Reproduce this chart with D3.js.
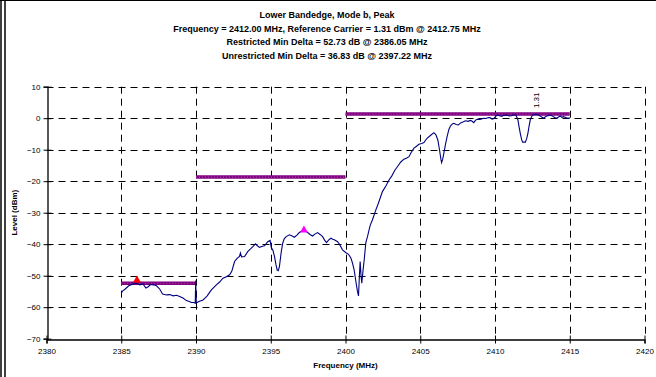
<!DOCTYPE html>
<html><head><meta charset="utf-8">
<script src="https://cdn.jsdelivr.net/npm/d3@7"></script>
<style>
html,body{margin:0;padding:0;background:#fff;}
svg{display:block;font-family:"Liberation Sans",Arial,sans-serif;}
</style></head>
<body>
<svg id="c" width="656" height="377"></svg>
<script>
const titleLines = [
  "Lower Bandedge, Mode b, Peak",
  "Frequency = 2412.00 MHz, Reference Carrier = 1.31 dBm @ 2412.75 MHz",
  "Restricted Min Delta = 52.73 dB @ 2386.05 MHz",
  "Unrestricted Min Delta = 36.83 dB @ 2397.22 MHz"
];
const xTicks = [2380,2385,2390,2395,2400,2405,2410,2415,2420];
const yTicks = [10,0,-10,-20,-30,-40,-50,-60,-70];
const xLabel = "Frequency (MHz)";
const yLabel = "Level (dBm)";

const freq = [2385.0,2385.1,2385.25,2385.5,2385.8,2386.0,2386.25,2386.45,2386.65,2386.8,2386.96,2387.15,2387.36,2387.58,2387.76,2388.03,2388.25,2388.47,2388.7,2388.91,2389.13,2389.36,2389.55,2389.69,2389.85,2389.95,2389.98,2390.02,2390.2,
2390.47,2390.6,2390.75,2390.91,2391.03,2391.13,2391.36,2391.58,2391.8,2392.03,2392.25,2392.4,2392.58,2392.75,2392.91,2392.97,2393.05,2393.25,2393.47,2393.65,2393.8,2393.98,2394.1,2394.25,2394.4,2394.58,2394.7,2394.8,2394.96,2395.03,2395.15,2395.25,2395.35,2395.43,2395.5,2395.58,2395.7,2395.8,2395.9,2396.03,2396.25,2396.4,2396.58,2396.75,2396.91,2397.05,2397.22,2397.35,2397.47,2397.65,2397.8,2397.95,2398.13,2398.3,2398.47,2398.6,2398.73,2398.88,2399.03,2399.15,2399.25,2399.47,2399.6,2399.8,2400.03,2400.2,2400.36,2400.47,2400.58,2400.7,2400.8,2400.87,2400.93,2400.98,2401.04,2401.09,2401.18,2401.25,2401.36,2401.47,2401.65,2401.8,2402.0,2402.2,2402.47,2402.7,2402.91,2403.1,2403.3,2403.47,2403.7,2403.91,2404.1,2404.25,2404.4,2404.58,2404.75,2404.91,2405.1,2405.25,2405.35,2405.47,2405.7,2405.91,2406.05,2406.18,2406.29,2406.38,2406.43,2406.5,2406.58,2406.7,2406.8,2406.92,2407.03,2407.15,2407.25,2407.4,2407.55,2407.7,2407.85,2408.03,2408.2,2408.35,2408.45,2408.58,2408.7,2408.85,2409.0,2409.25,2409.4,2409.55,2409.7,2409.8,2409.9,2410.03,2410.15,2410.3,2410.45,2410.6,2410.8,2410.95,2411.1,2411.25,2411.4,2411.53,2411.62,2411.69,2411.78,2411.85,2412.03,2412.12,2412.2,2412.28,2412.36,2412.5,2412.62,2412.75,2412.9,2413.03,2413.15,2413.25,2413.35,2413.47,2413.6,2413.7,2413.9,2414.0,2414.13,2414.25,2414.36,2414.48,2414.58,2414.7,2414.87,2415.0];
const level = [-55.6,-54.8,-54.3,-53.2,-52.6,-52.4,-52.9,-52.6,-53.9,-53.5,-52.8,-52.9,-53.2,-54.3,-55.8,-56.1,-56.0,-56.4,-56.2,-56.6,-57.1,-57.9,-58.2,-58.5,-58.5,-58.7,-51.5,-58.6,-58.2,
-57.7,-57.1,-56.4,-55.3,-54.5,-54.0,-52.9,-52.0,-50.8,-50.3,-49.7,-48.5,-45.5,-44.5,-43.9,-42.8,-44.0,-43.9,-42.3,-41.5,-40.8,-39.9,-40.5,-41.0,-40.7,-40.5,-39.8,-39.2,-38.8,-41.0,-42.0,-43.9,-46.5,-48.2,-48.4,-47.1,-42.5,-39.7,-38.3,-37.6,-37.0,-37.3,-37.8,-37.1,-36.3,-35.9,-35.5,-35.9,-36.3,-37.0,-37.4,-36.8,-36.3,-36.9,-37.6,-38.7,-39.5,-38.6,-38.1,-38.4,-38.6,-39.2,-40.0,-41.8,-42.7,-43.2,-44.4,-46.0,-48.2,-52.0,-55.0,-56.4,-50.0,-45.5,-50.0,-52.4,-48.0,-45.0,-39.5,-37.6,-34.0,-32.3,-29.5,-27.0,-23.3,-21.5,-19.6,-18.3,-16.5,-15.4,-13.9,-13.0,-12.6,-12.2,-10.8,-9.5,-8.9,-8.3,-8.0,-7.7,-7.0,-6.3,-5.4,-4.6,-5.3,-7.0,-10.1,-13.0,-14.1,-13.0,-11.1,-8.0,-5.8,-3.5,-2.4,-1.8,-1.6,-2.0,-2.1,-1.5,-1.2,-0.8,-1.0,-0.7,-0.9,-1.4,-0.6,-0.3,-0.4,0.0,-0.1,0.2,0.1,-0.3,-0.2,0.5,1.0,0.8,0.6,0.9,1.0,0.7,0.8,1.1,1.0,-0.5,-3.0,-4.8,-6.8,-7.6,-7.6,-6.5,-4.8,-2.5,-0.5,1.0,1.1,1.31,1.0,0.7,0.3,0.0,0.4,0.7,0.9,1.0,0.5,0.2,0.0,0.4,0.7,0.3,0.5,0.3,0.0,0.1];

const limitStart = [2385, 2390, 2400];
const limitEnd = [2390, 2400, 2415];
const limitLevel = [-52.4, -18.69, 1.31];

const markerFreq = [2386.05, 2397.22];
const markerLevel = [-51.42, -35.52];
const markerColor = ["#ff0000", "#ff00ff"];

const peakLabelFreq = 2412.75;
const peakLabelLevel = 1.31;
const peakLabel = "1.31";

const svg = d3.select("#c");
const x = d3.scaleLinear().domain([2380, 2420]).range([46.5, 644.5]);
const y = d3.scaleLinear().domain([-70, 10]).range([338.7, 86.7]);

// outer frame
svg.append("line").attr("x1",0).attr("x2",656).attr("y1",0.5).attr("y2",0.5).attr("stroke","#000");
svg.append("line").attr("x1",1).attr("x2",1).attr("y1",0).attr("y2",377).attr("stroke","#000").attr("stroke-width",1.5);
svg.append("line").attr("x1",5).attr("x2",5).attr("y1",0).attr("y2",377).attr("stroke","#000").attr("stroke-width",1.5);

// title
const t = svg.append("text").attr("text-anchor","middle").attr("font-size","9px").attr("font-weight","bold");
titleLines.forEach((s,i)=>{
  t.append("tspan").attr("x",327).attr("y",18 + i*13.5).text(s);
});

// grid
const g = svg.append("g");
g.selectAll("line.hg").data(yTicks.filter(d=>d>-70)).join("line")
  .attr("x1", x(2380)).attr("x2", x(2420))
  .attr("y1", d=>Math.round(y(d))+0.5).attr("y2", d=>Math.round(y(d))+0.5)
  .attr("stroke","#000").attr("stroke-dasharray","7,5");
g.selectAll("line.vg").data(xTicks.filter(d=>d>2380)).join("line")
  .attr("x1", d=>Math.round(x(d))+0.5).attr("x2", d=>Math.round(x(d))+0.5)
  .attr("y1", y(10)).attr("y2", y(-70))
  .attr("stroke","#000").attr("stroke-dasharray","7,5");

// axes
const xAxis = d3.axisBottom(x).tickValues(xTicks).tickSize(4).tickFormat(d3.format("d"));
const yAxis = d3.axisLeft(y).tickValues(yTicks).tickSize(4).tickFormat(d3.format("d"));
const gx = svg.append("g").attr("transform",`translate(0,${Math.round(y(-70))+0.5})`).call(xAxis);
const gy = svg.append("g").attr("transform",`translate(${Math.round(x(2380))+0.5},0)`).call(yAxis);
[gx,gy].forEach(a=>{
  a.select(".domain").attr("stroke","#000").attr("stroke-width",1.3);
  a.selectAll(".tick line").attr("stroke","#000");
  a.selectAll("text").attr("font-size","8px").attr("fill","#000").attr("font-family","Liberation Sans, Arial, sans-serif");
});
gx.selectAll(".tick line").attr("y1",-4).attr("y2",4);
gx.selectAll(".tick text").attr("y",9);
gy.selectAll(".tick line").attr("x1",-4).attr("x2",4);
gy.selectAll(".tick text").attr("x",-7);

// axis labels
svg.append("text").attr("x", (x(2380)+x(2420))/2).attr("y", 368).attr("text-anchor","middle")
  .attr("font-size","8px").attr("font-weight","bold").text(xLabel);
svg.append("text").attr("transform",`translate(17,${(y(10)+y(-70))/2}) rotate(-90)`).attr("text-anchor","middle")
  .attr("font-size","8px").attr("font-weight","bold").text(yLabel);

// limit lines
const lim = svg.append("g");
limitLevel.forEach((v,i)=>{
  lim.append("line").attr("x1",x(limitStart[i])).attr("x2",x(limitEnd[i]))
    .attr("y1",y(v)).attr("y2",y(v)).attr("stroke","#800080").attr("stroke-width",3.5);
  lim.append("line").attr("x1",x(limitStart[i])).attr("x2",x(limitEnd[i]))
    .attr("y1",y(v)).attr("y2",y(v)).attr("stroke","#b050b0").attr("stroke-width",1).attr("stroke-dasharray","1,2");
});

// trace
const pts = freq.map((f,i)=>[f, level[i]]);
svg.append("path").datum(pts)
  .attr("d", d3.line().x(d=>x(d[0])).y(d=>y(d[1])))
  .attr("fill","none").attr("stroke","#000080").attr("stroke-width",1.1);

// markers
markerFreq.forEach((f,i)=>{
  svg.append("path").attr("d", d3.symbol().type(d3.symbolTriangle).size(28)())
    .attr("transform",`translate(${x(f)},${y(markerLevel[i])})`).attr("fill",markerColor[i]);
});

// peak label
svg.append("text").attr("transform",`translate(${x(peakLabelFreq)+2.5},${y(peakLabelLevel)-6}) rotate(-90)`)
  .attr("font-size","8px").attr("fill","#000").text(peakLabel);
</script>
</body></html>
